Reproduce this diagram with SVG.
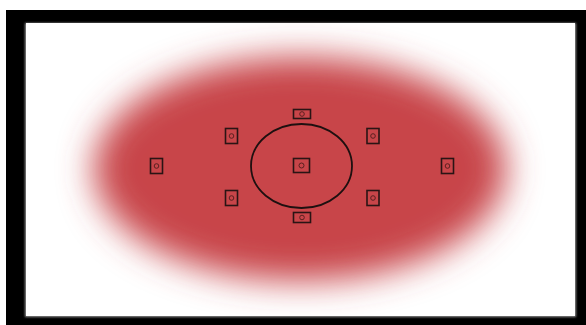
<svg xmlns="http://www.w3.org/2000/svg" width="586" height="325" viewBox="0 0 586 325">
<defs>
<filter id="blur" x="-30%" y="-40%" width="160%" height="180%">
<feGaussianBlur stdDeviation="17"/>
</filter>
<filter id="shadow" x="-5%" y="-5%" width="110%" height="110%">
<feGaussianBlur stdDeviation="1"/>
</filter>
<style>
.af rect{fill:none;stroke:#2a1414;stroke-width:1.6}
.af circle{fill:none;stroke:#5a2020;stroke-width:1}
.ring{fill:none;stroke:#1e1010;stroke-width:1.8}
</style>
</defs>
<rect x="0" y="0" width="586" height="325" fill="#ffffff"/>
<rect x="6" y="10" width="580" height="315" fill="#000000"/>
<rect x="25" y="23" width="551" height="294" fill="#9a9a9a" filter="url(#shadow)"/>
<rect x="26" y="23" width="549" height="293" fill="#ffffff"/>
<ellipse cx="300" cy="169" rx="206" ry="112" fill="#c8444a" filter="url(#blur)"/>
<g id="center-ring"><ellipse class="ring" cx="301.5" cy="166" rx="50.5" ry="42"/></g>
<g id="af-center" class="af"><rect x="293.5" y="158.5" width="16" height="14"/><circle cx="301.5" cy="165.5" r="2.5"/></g>
<g id="af-top" class="af"><rect x="293.5" y="109.5" width="17" height="9"/><circle cx="302" cy="114" r="2.3"/></g>
<g id="af-bottom" class="af"><rect x="293.5" y="212.5" width="17" height="10"/><circle cx="302" cy="217.5" r="2.3"/></g>
<g id="af-left" class="af"><rect x="150.5" y="158.5" width="12" height="15"/><circle cx="156.5" cy="166" r="2.3"/></g>
<g id="af-top-left" class="af"><rect x="225.5" y="128.5" width="12" height="15"/><circle cx="231.5" cy="136" r="2.3"/></g>
<g id="af-bottom-left" class="af"><rect x="225.5" y="190.5" width="12" height="15"/><circle cx="231.5" cy="198" r="2.3"/></g>
<g id="af-top-right" class="af"><rect x="367" y="128.5" width="12" height="15"/><circle cx="373" cy="136" r="2.3"/></g>
<g id="af-bottom-right" class="af"><rect x="367" y="190.5" width="12" height="15"/><circle cx="373" cy="198" r="2.3"/></g>
<g id="af-right" class="af"><rect x="441.5" y="158.5" width="12" height="15"/><circle cx="447.5" cy="166" r="2.3"/></g>
<g id="connectors"/>
</svg>
